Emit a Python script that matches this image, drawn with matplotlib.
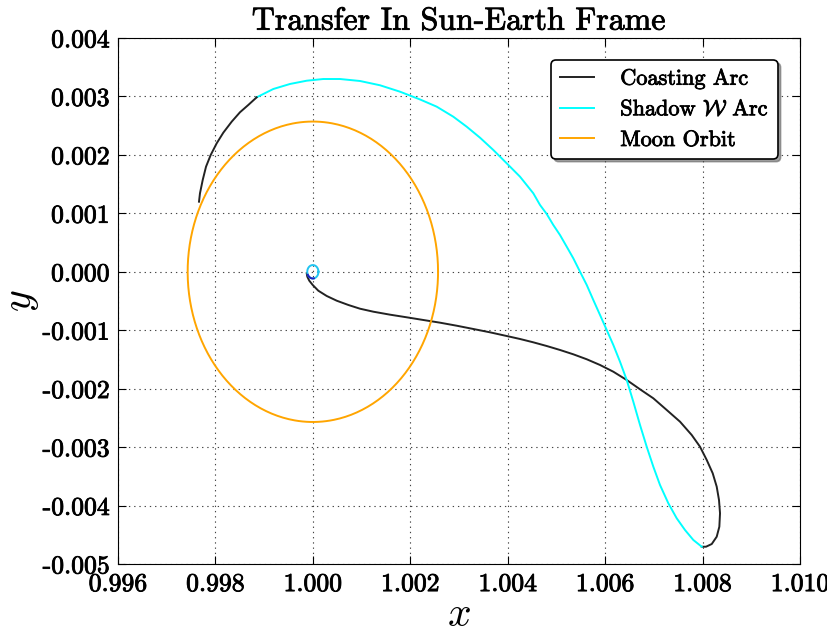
import numpy as np
import matplotlib
matplotlib.use('Agg')
import matplotlib.pyplot as plt
import matplotlib.patheffects as pe
from matplotlib.ticker import FormatStrFormatter, MultipleLocator

plt.rcParams['font.family'] = 'serif'
plt.rcParams['font.serif'] = ['cmr10', 'DejaVu Serif']
plt.rcParams['mathtext.fontset'] = 'cm'
plt.rcParams['axes.unicode_minus'] = False

# coasting arc leaving Earth
coast1_x = [0.999874, 0.999886, 0.999927, 0.999997, 1.000112, 1.000284, 1.000490,
            1.000728, 1.000968, 1.001241, 1.001584, 1.001926, 1.002267, 1.002610,
            1.002953, 1.003294, 1.003636, 1.003979, 1.004252, 1.004525, 1.004800,
            1.005073, 1.005346, 1.005622, 1.005895, 1.006168, 1.006443, 1.006716,
            1.006989, 1.007264, 1.007537, 1.007777, 1.007947, 1.008085, 1.008208,
            1.008290, 1.008337, 1.008358, 1.008344, 1.008290, 1.008188, 1.008071,
            1.007982]
coast1_y = [-0.000026, -0.000084, -0.000153, -0.000226, -0.000324, -0.000414, -0.000495,
            -0.000568, -0.000632, -0.000683, -0.000734, -0.000779, -0.000825, -0.000871,
            -0.000923, -0.000979, -0.001036, -0.001099, -0.001150, -0.001207, -0.001270,
            -0.001338, -0.001412, -0.001497, -0.001595, -0.001710, -0.001852, -0.002011,
            -0.002165, -0.002365, -0.002565, -0.002793, -0.002993, -0.003220, -0.003448,
            -0.003677, -0.003905, -0.004132, -0.004362, -0.004533, -0.004658, -0.004704,
            -0.004704]

# shadow W arc
shadow_x = [1.007982, 1.007810, 1.007639, 1.007469, 1.007297, 1.007126, 1.006989,
            1.006853, 1.006716, 1.006578, 1.006443, 1.006305, 1.006168, 1.006032,
            1.005895, 1.005757, 1.005622, 1.005484, 1.005346, 1.005211, 1.005073,
            1.004936, 1.004800, 1.004663, 1.004525, 1.004252, 1.003979, 1.003704,
            1.003431, 1.003158, 1.002883, 1.002542, 1.002200, 1.001789, 1.001378,
            1.000968, 1.000557, 1.000214, 0.999874, 0.999531, 0.999188, 0.998847]
shadow_y = [-0.004704, -0.004589, -0.004418, -0.004218, -0.003961, -0.003648, -0.003335,
            -0.002993, -0.002622, -0.002223, -0.001852, -0.001539, -0.001253, -0.000996,
            -0.000740, -0.000483, -0.000226, 0.000001, 0.000231, 0.000429, 0.000629,
            0.000800, 0.000989, 0.001143, 0.001343, 0.001627, 0.001856, 0.002084,
            0.002294, 0.002482, 0.002653, 0.002825, 0.002948, 0.003081, 0.003191,
            0.003264, 0.003298, 0.003298, 0.003269, 0.003213, 0.003127, 0.002985]

# second coasting arc
coast2_x = [0.998847, 0.998675, 0.998504, 0.998334, 0.998162, 0.998026, 0.997903,
            0.997807, 0.997739, 0.997683, 0.997663]
coast2_y = [0.002985, 0.002854, 0.002729, 0.002568, 0.002380, 0.002198, 0.001998,
            0.001798, 0.001570, 0.001343, 0.001199]

# moon orbit and small parking orbit round Earth
earth_x, earth_y = 1.0, 0.0
moon_r = 0.00257
park_r = 0.000115

th = np.linspace(0, 2 * np.pi, 400)

fig = plt.figure(figsize=(8.28, 6.34), dpi=100)
ax = fig.add_axes([0.1425, 0.1104, 0.8237, 0.8297])

ax.plot(coast1_x, coast1_y, color='#222222', lw=1.4, label='Coasting Arc')
ax.plot(shadow_x, shadow_y, color='cyan', lw=1.4, label=r'Shadow $\mathcal{W}$ Arc')
ax.plot(coast2_x, coast2_y, color='#222222', lw=1.4)
ax.plot(earth_x + moon_r * np.cos(th), earth_y + moon_r * np.sin(th),
        color='orange', lw=1.4, label='Moon Orbit')
ax.plot(earth_x + park_r * np.cos(th), earth_y + park_r * np.sin(th),
        color='#22c4f0', lw=1.4)
seg = th[(th > 3.6) & (th < 4.9)]
ax.plot(earth_x + park_r * np.cos(seg), earth_y + park_r * np.sin(seg),
        color='#2020c0', lw=1.4)

ax.set_xlim(0.996, 1.010)
ax.set_ylim(-0.005, 0.004)
ax.xaxis.set_major_locator(MultipleLocator(0.002))
ax.yaxis.set_major_locator(MultipleLocator(0.001))
ax.xaxis.set_major_formatter(FormatStrFormatter('%.3f'))
ax.yaxis.set_major_formatter(FormatStrFormatter('%.3f'))
ax.tick_params(direction='in', top=True, right=True, length=6, labelsize=18.5, pad=6)
ax.grid(True, color='#444444', linestyle=(0, (1.2, 3.5)), linewidth=0.8)

bold = [pe.withStroke(linewidth=0.6, foreground='black')]
ax.set_title('Transfer In Sun-Earth Frame', fontsize=23, path_effects=bold)
ax.set_xlabel(r'$x$', fontsize=30, labelpad=0)
ax.set_ylabel(r'$y$', fontsize=30, labelpad=1)
for lab in ax.get_xticklabels() + ax.get_yticklabels():
    lab.set_path_effects(bold)

leg = ax.legend(loc='upper right', fontsize=16, shadow=True, fancybox=True,
                handlelength=1.5, handletextpad=1.2, borderaxespad=1.0,
                labelspacing=0.5)
leg.get_frame().set_edgecolor('black')
leg.get_frame().set_linewidth(1.2)
for t in leg.get_texts():
    t.set_path_effects(bold)

fig.savefig('out.png', dpi=100)
